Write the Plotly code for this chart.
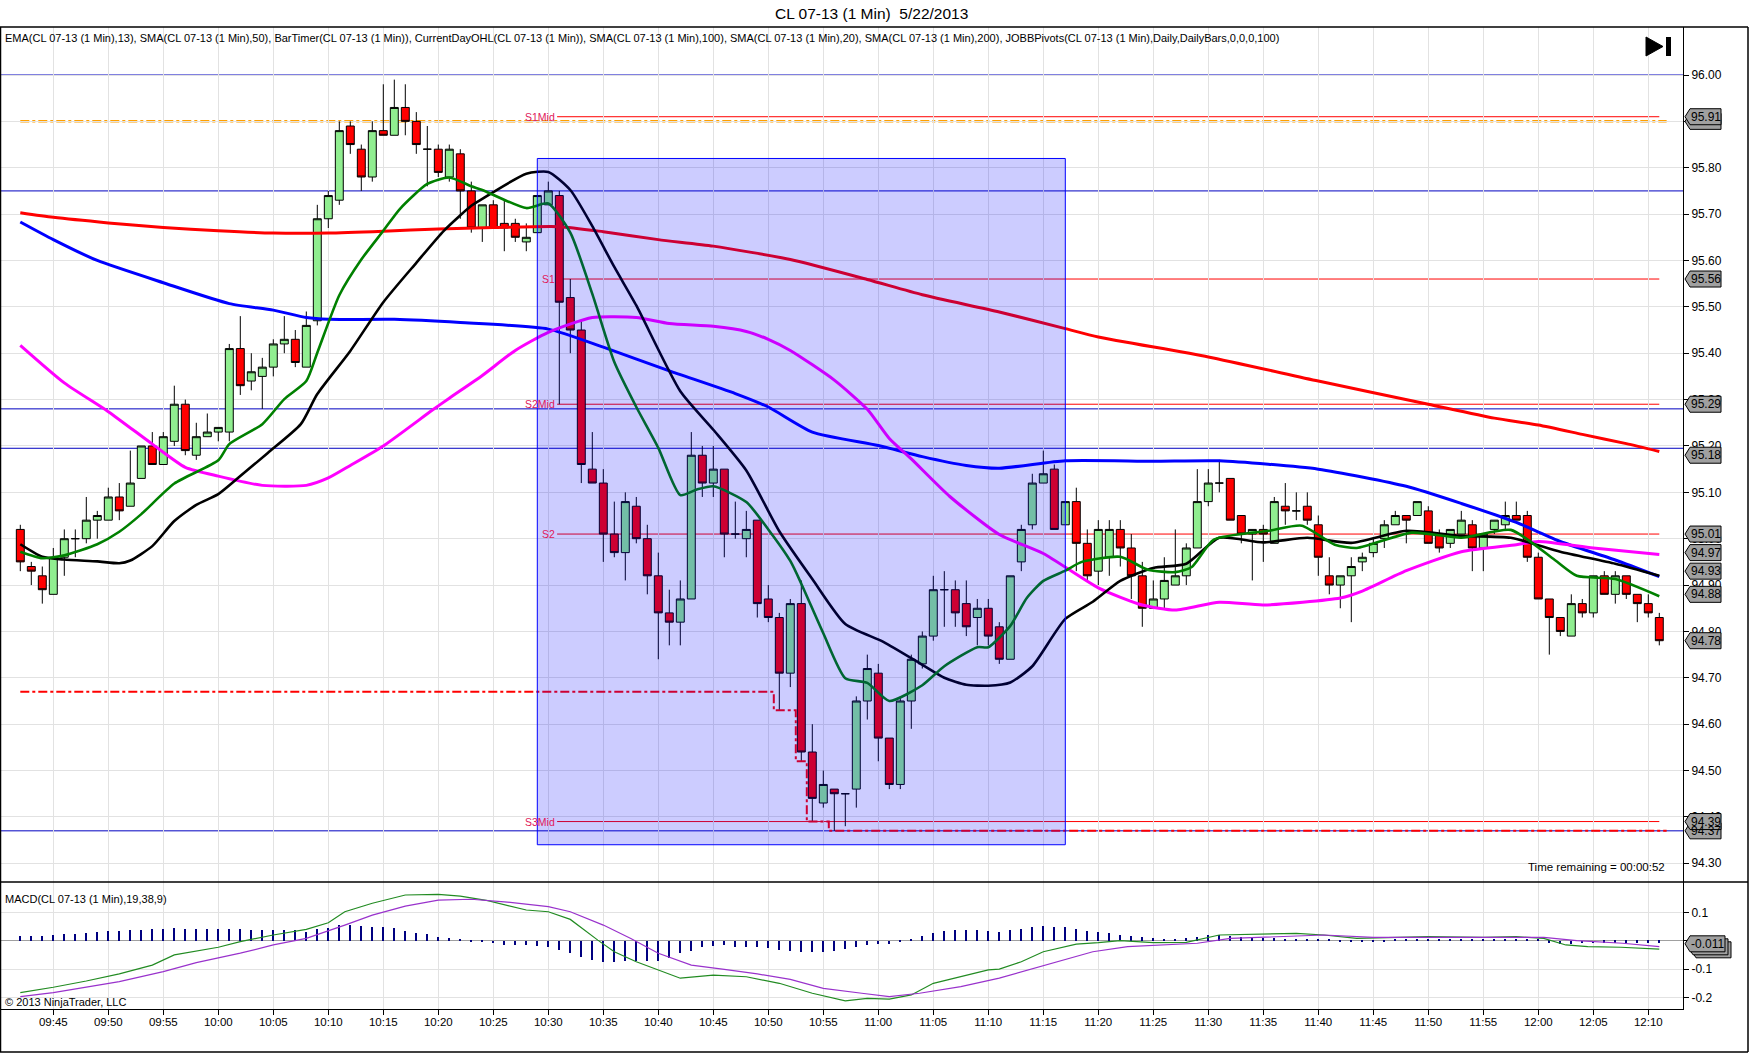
import pandas as pd
import plotly.graph_objects as go
from plotly.subplots import make_subplots

DAY = "2013-05-22"
FIRST_BAR = "09:42"
FONT = "Liberation Sans, Arial, sans-serif"

# ---------------- 1-min OHLC bars 09:42 .. 12:11 ----------------
opens = [
    95.02, 94.94, 94.92, 94.88, 94.96, 95.00, 95.00, 95.04, 95.04, 95.09,
    95.07, 95.13, 95.20, 95.16, 95.21, 95.29, 95.18, 95.22, 95.23, 95.23,
    95.41, 95.34, 95.35, 95.37, 95.42, 95.43, 95.37, 95.47, 95.69, 95.73,
    95.89, 95.84, 95.78, 95.88, 95.87, 95.93, 95.90, 95.84, 95.84, 95.78,
    95.83, 95.75, 95.67, 95.72, 95.68, 95.68, 95.64, 95.66, 95.72, 95.74,
    95.52, 95.45, 95.15, 95.12, 95.01, 94.97, 95.07, 95.00, 94.92, 94.84,
    94.82, 94.87, 95.18, 95.12, 95.15, 95.01, 95.00, 95.04, 94.87, 94.83,
    94.71, 94.86, 94.54, 94.43, 94.46, 94.45, 94.46, 94.65, 94.71, 94.57,
    94.47, 94.65, 94.73, 94.79, 94.89, 94.89, 94.86, 94.83, 94.85, 94.81,
    94.74, 94.95, 95.03, 95.12, 95.15, 95.03, 95.08, 94.99, 94.93, 94.96,
    95.02, 94.98, 94.92, 94.85, 94.87, 94.90, 94.92, 94.98, 95.08, 95.12,
    95.13, 95.05, 95.01, 95.02, 94.99, 95.07, 95.06, 95.07, 95.03, 94.92,
    94.90, 94.92, 94.95, 94.97, 95.00, 95.03, 95.05, 95.05, 95.06, 95.01,
    94.99, 95.01, 95.03, 94.98, 95.02, 95.03, 95.05, 95.05, 94.96, 94.87,
    94.83, 94.79, 94.86, 94.84, 94.92, 94.88, 94.92, 94.88, 94.86, 94.83,
]
highs = [
    95.03, 94.95, 94.94, 94.98, 95.02, 95.02, 95.09, 95.06, 95.11, 95.12,
    95.19, 95.20, 95.23, 95.23, 95.33, 95.30, 95.25, 95.27, 95.24, 95.42,
    95.48, 95.40, 95.39, 95.43, 95.48, 95.45, 95.49, 95.72, 95.75, 95.90,
    95.90, 95.85, 95.90, 95.98, 95.99, 95.98, 95.92, 95.89, 95.85, 95.85,
    95.84, 95.77, 95.72, 95.73, 95.73, 95.69, 95.68, 95.74, 95.77, 95.75,
    95.56, 95.47, 95.23, 95.15, 95.08, 95.10, 95.09, 95.03, 94.97, 94.89,
    94.91, 95.23, 95.20, 95.20, 95.15, 95.08, 95.06, 95.04, 94.90, 94.84,
    94.87, 94.91, 94.60, 94.50, 94.46, 94.45, 94.66, 94.75, 94.73, 94.57,
    94.66, 94.75, 94.80, 94.92, 94.93, 94.91, 94.91, 94.87, 94.87, 94.82,
    94.92, 95.03, 95.14, 95.19, 95.16, 95.08, 95.11, 95.02, 95.04, 95.04,
    95.04, 95.01, 94.95, 94.91, 94.96, 95.02, 94.99, 95.15, 95.15, 95.17,
    95.13, 95.05, 95.02, 95.03, 95.09, 95.12, 95.10, 95.10, 95.05, 94.96,
    94.92, 94.96, 94.97, 95.00, 95.04, 95.06, 95.05, 95.08, 95.07, 95.02,
    95.02, 95.06, 95.04, 95.01, 95.04, 95.08, 95.08, 95.06, 94.97, 94.87,
    94.83, 94.88, 94.87, 94.92, 94.93, 94.93, 94.92, 94.88, 94.88, 94.84,
]
lows = [
    94.93, 94.90, 94.86, 94.88, 94.92, 94.96, 94.99, 95.00, 95.04, 95.04,
    95.07, 95.13, 95.16, 95.16, 95.20, 95.18, 95.17, 95.22, 95.21, 95.21,
    95.31, 95.32, 95.28, 95.35, 95.40, 95.37, 95.37, 95.46, 95.67, 95.72,
    95.83, 95.75, 95.77, 95.87, 95.87, 95.87, 95.83, 95.76, 95.78, 95.77,
    95.69, 95.66, 95.64, 95.67, 95.62, 95.64, 95.62, 95.66, 95.72, 95.29,
    95.40, 95.12, 95.12, 94.95, 94.96, 94.91, 94.99, 94.88, 94.74, 94.77,
    94.77, 94.87, 95.09, 95.09, 94.96, 95.00, 94.96, 94.83, 94.82, 94.63,
    94.68, 94.52, 94.39, 94.42, 94.37, 94.38, 94.42, 94.61, 94.52, 94.46,
    94.46, 94.59, 94.72, 94.78, 94.81, 94.81, 94.79, 94.77, 94.77, 94.73,
    94.74, 94.93, 95.02, 95.12, 95.02, 95.03, 94.93, 94.91, 94.90, 94.92,
    94.94, 94.87, 94.81, 94.85, 94.85, 94.90, 94.90, 94.98, 95.07, 95.10,
    95.04, 94.99, 94.91, 94.95, 94.99, 95.03, 95.04, 95.03, 94.92, 94.88,
    94.85, 94.82, 94.93, 94.96, 94.98, 95.03, 94.99, 95.05, 94.99, 94.97,
    94.98, 95.01, 94.93, 94.93, 95.01, 95.02, 95.04, 94.95, 94.87, 94.75,
    94.79, 94.79, 94.83, 94.83, 94.88, 94.86, 94.87, 94.82, 94.83, 94.77,
]
closes = [
    94.95, 94.93, 94.89, 94.96, 95.00, 95.00, 95.04, 95.05, 95.09, 95.06,
    95.12, 95.20, 95.16, 95.22, 95.29, 95.19, 95.22, 95.23, 95.24, 95.41,
    95.33, 95.36, 95.37, 95.42, 95.43, 95.38, 95.46, 95.69, 95.74, 95.88,
    95.85, 95.78, 95.88, 95.87, 95.93, 95.90, 95.85, 95.84, 95.79, 95.84,
    95.75, 95.67, 95.72, 95.67, 95.67, 95.65, 95.65, 95.74, 95.75, 95.51,
    95.45, 95.16, 95.12, 95.01, 94.97, 95.08, 95.00, 94.92, 94.84, 94.82,
    94.87, 95.18, 95.12, 95.15, 95.01, 95.01, 95.02, 94.86, 94.83, 94.71,
    94.86, 94.54, 94.44, 94.47, 94.45, 94.45, 94.65, 94.72, 94.57, 94.47,
    94.65, 94.74, 94.79, 94.89, 94.89, 94.84, 94.81, 94.85, 94.79, 94.74,
    94.92, 95.02, 95.12, 95.14, 95.02, 95.08, 94.99, 94.92, 95.02, 95.02,
    94.98, 94.92, 94.85, 94.87, 94.91, 94.92, 94.98, 95.08, 95.12, 95.12,
    95.04, 95.01, 95.02, 95.01, 95.08, 95.06, 95.06, 95.04, 94.96, 94.90,
    94.92, 94.94, 94.96, 94.99, 95.03, 95.05, 95.04, 95.08, 94.99, 94.98,
    95.02, 95.04, 94.98, 95.01, 95.04, 95.05, 95.04, 94.96, 94.87, 94.83,
    94.80, 94.86, 94.84, 94.92, 94.88, 94.92, 94.88, 94.86, 94.84, 94.78,
]
# MACD histogram (diff), one value per bar
macd_diff = [
    0.016, 0.016, 0.016, 0.020, 0.023, 0.023, 0.028, 0.032, 0.034, 0.035,
    0.038, 0.038, 0.041, 0.041, 0.045, 0.042, 0.041, 0.041, 0.040, 0.042,
    0.040, 0.038, 0.038, 0.038, 0.038, 0.038, 0.032, 0.040, 0.043, 0.055,
    0.055, 0.052, 0.049, 0.047, 0.043, 0.035, 0.028, 0.023, 0.014, 0.008,
    0.003, -0.003, -0.005, -0.009, -0.015, -0.016, -0.016, -0.019, -0.023, -0.033,
    -0.045, -0.056, -0.068, -0.074, -0.074, -0.070, -0.070, -0.070, -0.070, -0.062,
    -0.045, -0.035, -0.023, -0.019, -0.016, -0.021, -0.021, -0.023, -0.027, -0.033,
    -0.038, -0.039, -0.039, -0.039, -0.036, -0.030, -0.023, -0.015, -0.012, -0.012,
    -0.004, 0.005, 0.016, 0.028, 0.035, 0.038, 0.038, 0.038, 0.035, 0.032,
    0.038, 0.040, 0.047, 0.052, 0.049, 0.047, 0.040, 0.035, 0.032, 0.026,
    0.020, 0.016, 0.012, 0.008, 0.006, 0.006, 0.008, 0.014, 0.019, 0.020,
    0.016, 0.014, 0.012, 0.011, 0.008, 0.006, 0.005, 0.003, 0.003, 0.003,
    -0.004, -0.004, -0.004, -0.003, -0.003, 0.003, 0.003, 0.003, 0.003, 0.003,
    0.003, 0.003, 0.003, 0.003, 0.003, 0.003, 0.003, 0.003, 0.003, -0.007,
    -0.012, -0.012, -0.009, -0.009, -0.007, -0.007, -0.007, -0.007, -0.007, -0.007,
]

# ---------------- indicator lines (read at sample times) ----------------
sma200_t = ["09:42", "09:45", "09:50", "09:55", "10:00", "10:05", "10:10", "10:15", "10:20", "10:25",
            "10:31", "10:35", "10:40", "10:45", "10:52", "10:59", "11:04", "11:11", "11:17", "11:20",
            "11:30", "11:40", "11:50", "11:56", "12:00", "12:04", "12:08", "12:11"]
sma200_v = [95.703, 95.693, 95.681, 95.671, 95.664, 95.659, 95.659, 95.663, 95.668, 95.671,
            95.673, 95.662, 95.645, 95.631, 95.602, 95.559, 95.526, 95.489, 95.453, 95.435,
            95.392, 95.340, 95.290, 95.260, 95.245, 95.225, 95.205, 95.188]

sma100_t = ["09:42", "09:45", "09:49", "09:55", "10:01", "10:05", "10:08", "10:10", "10:16", "10:22",
            "10:30", "10:35", "10:41", "10:47", "10:50", "10:54", "11:00", "11:04", "11:08", "11:11",
            "11:17", "11:25", "11:31", "11:40", "11:48", "11:53", "11:58", "12:02", "12:07", "12:11"]
sma100_v = [95.683, 95.645, 95.600, 95.552, 95.507, 95.493, 95.477, 95.473, 95.473, 95.466,
            95.452, 95.413, 95.362, 95.313, 95.284, 95.230, 95.201, 95.177, 95.158, 95.152,
            95.168, 95.167, 95.168, 95.150, 95.113, 95.076, 95.035, 94.994, 94.954, 94.918]

sma50_t = ["09:42", "09:46", "09:50", "09:54", "09:57", "10:00", "10:04", "10:08", "10:10", "10:12",
           "10:15", "10:19:30", "10:21", "10:24", "10:27", "10:30", "10:34", "10:38", "10:41", "10:45",
           "10:48", "10:50", "10:52", "10:56", "10:59", "11:01", "11:03", "11:06:30", "11:11", "11:15",
           "11:20", "11:24", "11:27", "11:31", "11:35", "11:42", "11:44", "11:48", "11:53", "11:58",
           "12:00", "12:05", "12:11"]
sma50_v = [95.417, 95.336, 95.274, 95.204, 95.154, 95.135, 95.115, 95.115, 95.131, 95.158,
           95.200, 95.278, 95.303, 95.352, 95.406, 95.445, 95.477, 95.477, 95.464, 95.458,
           95.447, 95.430, 95.406, 95.342, 95.279, 95.216, 95.172, 95.091, 95.009, 94.968,
           94.894, 94.857, 94.846, 94.863, 94.857, 94.872, 94.887, 94.931, 94.972, 94.987,
           94.994, 94.980, 94.966]

sma20_t = ["09:42", "09:44", "09:46", "09:49", "09:51", "09:52", "09:54", "09:56", "09:58", "10:00",
           "10:02", "10:04:30", "10:07:30", "10:09", "10:12", "10:15", "10:18", "10:20:30", "10:23", "10:24",
           "10:28", "10:30", "10:32", "10:34", "10:36", "10:38", "10:42", "10:45", "10:48", "10:51",
           "10:54", "10:57", "11:00:30", "11:04", "11:06", "11:08", "11:10", "11:12", "11:14", "11:17",
           "11:19:30", "11:22", "11:25", "11:28", "11:31", "11:35", "11:39", "11:43", "11:48", "11:53",
           "11:57:30", "12:02", "12:07", "12:11"]
sma20_v = [94.988, 94.961, 94.955, 94.951, 94.947, 94.953, 94.984, 95.038, 95.073, 95.096,
           95.135, 95.185, 95.247, 95.312, 95.405, 95.510, 95.595, 95.664, 95.718, 95.733,
           95.787, 95.791, 95.752, 95.674, 95.586, 95.503, 95.318, 95.235, 95.147, 95.016,
           94.913, 94.816, 94.777, 94.728, 94.700, 94.685, 94.683, 94.690, 94.725, 94.827,
           94.864, 94.909, 94.937, 94.946, 95.002, 94.992, 95.002, 94.991, 95.017, 95.006,
           95.002, 94.972, 94.946, 94.920]

ema13_t = ["09:42", "09:44", "09:46", "09:49", "09:51", "09:53", "09:56", "10:00", "10:01", "10:04",
           "10:06", "10:08", "10:09", "10:11", "10:13", "10:15", "10:16:30", "10:19", "10:21", "10:23",
           "10:24", "10:28", "10:30", "10:32", "10:34", "10:36", "10:38", "10:40", "10:42", "10:43:30",
           "10:45", "10:48", "10:50", "10:52", "10:53", "10:55", "10:57", "10:59", "11:01", "11:04",
           "11:06", "11:09", "11:10", "11:12", "11:13:30", "11:15", "11:17", "11:18:30", "11:22", "11:24:30",
           "11:27", "11:28:30", "11:30:30", "11:35:30", "11:38:30", "11:41:30", "11:43:30", "11:48:30", "11:53", "11:57:30",
           "12:01:30", "12:03:30", "12:07", "12:11"]
ema13_v = [94.972, 94.958, 94.964, 94.988, 95.015, 95.053, 95.119, 95.169, 95.204, 95.247,
           95.301, 95.340, 95.401, 95.525, 95.602, 95.664, 95.711, 95.765, 95.779, 95.760,
           95.752, 95.713, 95.723, 95.660, 95.528, 95.381, 95.284, 95.196, 95.094, 95.106,
           95.113, 95.079, 95.020, 94.952, 94.903, 94.796, 94.699, 94.689, 94.650, 94.684,
           94.725, 94.766, 94.766, 94.812, 94.872, 94.909, 94.931, 94.950, 94.961, 94.933,
           94.928, 94.939, 94.998, 95.017, 95.028, 94.987, 94.980, 95.013, 95.002, 95.019,
           94.954, 94.920, 94.913, 94.876]

macd_t = ["09:42", "09:45", "09:48", "09:51", "09:54", "09:56", "10:00", "10:02", "10:05", "10:08",
          "10:10", "10:11:30", "10:14", "10:17", "10:20", "10:22", "10:24:30", "10:26", "10:28", "10:30",
          "10:32", "10:34:30", "10:36", "10:38", "10:42", "10:45", "10:48", "10:51", "10:54", "10:57",
          "10:59", "11:01", "11:03", "11:05", "11:07:30", "11:10", "11:11", "11:13", "11:15", "11:18",
          "11:20", "11:22", "11:25", "11:28", "11:31", "11:35", "11:38", "11:40:30", "11:43:30", "11:50",
          "11:55", "11:58", "12:00:30", "12:02:30", "12:04:30", "12:07:30", "12:11"]
macd_v = [-0.183, -0.164, -0.142, -0.117, -0.086, -0.050, -0.023, -0.003, 0.020, 0.040,
          0.063, 0.102, 0.132, 0.161, 0.163, 0.157, 0.141, 0.126, 0.108, 0.102,
          0.075, 0.002, -0.039, -0.074, -0.132, -0.121, -0.127, -0.150, -0.185, -0.212,
          -0.203, -0.206, -0.191, -0.150, -0.127, -0.103, -0.100, -0.074, -0.039, -0.012,
          -0.007, 0.000, -0.007, -0.006, 0.020, 0.024, 0.026, 0.020, 0.008, 0.014,
          0.012, 0.014, 0.008, -0.015, -0.021, -0.023, -0.030]

signal_t = ["09:42", "09:45", "09:51", "09:55", "09:58", "10:02", "10:05", "10:08", "10:11:30", "10:14",
            "10:17", "10:20", "10:23", "10:26", "10:30", "10:32", "10:35", "10:37:30", "10:40", "10:43",
            "10:46", "10:49", "10:52", "10:55", "10:58:30", "11:01", "11:03:45", "11:07:30", "11:11", "11:15:20",
            "11:19:30", "11:22:40", "11:25:50", "11:29", "11:32", "11:37", "11:40:30", "11:45", "11:50", "11:55",
            "12:00:30", "12:03:30", "12:07:40", "12:11"]
signal_v = [-0.197, -0.183, -0.144, -0.109, -0.077, -0.044, -0.015, 0.008, 0.055, 0.090,
            0.122, 0.143, 0.146, 0.137, 0.120, 0.102, 0.055, 0.008, -0.044, -0.086,
            -0.101, -0.117, -0.136, -0.168, -0.185, -0.197, -0.185, -0.162, -0.132, -0.086,
            -0.039, -0.021, -0.015, -0.009, 0.008, 0.014, 0.020, 0.012, 0.012, 0.011,
            0.012, 0.000, -0.009, -0.021]

# ---------------- levels ----------------
blue_levels = [96.00, 95.75, 95.28, 95.195, 94.37]
day_open = 95.90
day_low_t = ["09:42", "10:50:30", "10:52:30", "10:53:30", "10:55:30", "12:11:40"]
day_low_v = [94.67, 94.63, 94.52, 94.39, 94.37, 94.37]
pivot_names = ["S1Mid", "S1", "S2Mid", "S2", "S3Mid"]
pivot_values = [95.91, 95.56, 95.29, 95.01, 94.39]
pivot_start = "10:30:48"
zone_t = ["10:29", "11:17"]
zone_p = [94.34, 95.82]
price_ticks = [94.3, 94.4, 94.5, 94.6, 94.7, 94.8, 94.9, 95.0, 95.1, 95.2, 95.3, 95.4,
               95.5, 95.6, 95.7, 95.8, 95.9, 96.0]
# value tags on the price axis: (value, text shown)
price_tags = [(95.90, ""), (95.91, "95.91"), (95.56, "95.56"), (95.29, "95.29"), (95.18, "95.18"),
              (95.01, "95.01"), (94.97, "94.97"), (94.93, "94.93"), (94.88, "94.88"),
              (94.78, "94.78"), (94.37, "94.37"), (94.39, "94.39")]
macd_ticks = [-0.2, -0.1, 0.0, 0.1]
macd_tag = -0.011

# ---------------- helpers ----------------
def T(s):
    return pd.Timestamp(f"{DAY} {s}")

n = len(opens)
times = pd.date_range(T(FIRST_BAR), periods=n, freq="min")
last = times[-1]

W, H = 1752, 1055
L, R, TOP, BOT = 1, 1683, 27, 1009   # plot area in pixels
SPLIT = 882                            # pane divider


def px(x):
    return (x - L) / (R - L)


def py(y):
    return (BOT - y) / (BOT - TOP)


fig = make_subplots(rows=2, cols=1, shared_xaxes=True, vertical_spacing=0,
                    row_heights=[SPLIT - TOP, BOT - SPLIT])

# level lines below traces
for v in blue_levels:
    fig.add_shape(type="line", xref="x domain", x0=0, x1=1, yref="y", y0=v, y1=v,
                  line=dict(color="#0000C0", width=1), layer="below")
for v in pivot_values:
    fig.add_shape(type="line", xref="x", x0=T(pivot_start), x1=last, yref="y", y0=v, y1=v,
                  line=dict(color="#FF0000", width=1), layer="below")
fig.add_shape(type="line", xref="x", x0=times[0], x1=last + pd.Timedelta(seconds=40),
              yref="y", y0=day_open, y1=day_open,
              line=dict(color="#FFA000", width=2.5, dash="9px,3px,3px,3px"), layer="below")

fig.add_trace(go.Scatter(x=[T(t) for t in day_low_t], y=day_low_v, mode="lines",
                         line=dict(color="#FF0000", width=2, dash="9px,3px,3px,3px", shape="hv"),
                         hoverinfo="skip"), row=1, col=1)

fig.add_trace(go.Candlestick(
    x=times, open=opens, high=highs, low=lows, close=closes,
    increasing=dict(fillcolor="#90EE90", line=dict(color="black", width=1)),
    decreasing=dict(fillcolor="#FF0000", line=dict(color="black", width=1)),
    whiskerwidth=0), row=1, col=1)

for tt, vv, col, w in [
    (sma200_t, sma200_v, "#FF0000", 3),
    (sma100_t, sma100_v, "#0000FF", 3),
    (sma50_t, sma50_v, "#FF00FF", 3),
    (sma20_t, sma20_v, "#000000", 2.6),
    (ema13_t, ema13_v, "#008000", 2.6),
]:
    fig.add_trace(go.Scatter(x=[T(t) for t in tt], y=vv, mode="lines",
                             line=dict(color=col, width=w, shape="spline", smoothing=0.6),
                             hoverinfo="skip"), row=1, col=1)

# zone rectangle drawn above everything
fig.add_shape(type="rect", xref="x", yref="y", x0=T(zone_t[0]), x1=T(zone_t[1]),
              y0=zone_p[0], y1=zone_p[1], fillcolor="rgba(0,0,255,0.2)",
              line=dict(color="#0000FF", width=1), layer="above")

# MACD pane
fig.add_trace(go.Bar(x=times, y=macd_diff, marker=dict(color="#000080", line=dict(width=0)),
                     width=13000, hoverinfo="skip"), row=2, col=1)
fig.add_trace(go.Scatter(x=[T(t) for t in macd_t], y=macd_v, mode="lines",
                         line=dict(color="#228B22", width=1.2), hoverinfo="skip"), row=2, col=1)
fig.add_trace(go.Scatter(x=[T(t) for t in signal_t], y=signal_v, mode="lines",
                         line=dict(color="#9932CC", width=1.2), hoverinfo="skip"), row=2, col=1)

# ---------------- axes ----------------
x_left = T("10:30") - pd.Timedelta(minutes=(548.3 - L) / 11.0)
x_right = T("10:30") + pd.Timedelta(minutes=(R - 548.3) / 11.0)
p_top = 96.0 + (75 - TOP) / 463.7
p_bot = 96.0 - (SPLIT - 75) / 463.7
m_top = (940.7 - SPLIT) / 284.0
m_bot = -(BOT - 940.7) / 284.0

y_font = dict(family=FONT, size=12, color="black")
x_font = dict(family=FONT, size=11.5, color="black")
fig.update_xaxes(range=[x_left, x_right], type="date", dtick=300000, tick0=T("09:45"),
                 showgrid=True, gridcolor="#E2E2E2", gridwidth=1, zeroline=False,
                 rangeslider_visible=False, tickformat="%H:%M", automargin=False)
fig.update_xaxes(showticklabels=False, ticks="", showline=False, row=1, col=1)
fig.update_xaxes(showticklabels=True, ticks="outside", ticklen=5, tickcolor="black",
                 showline=True, linecolor="black", linewidth=1, tickfont=x_font,
                 ticklabelstandoff=-3, row=2, col=1)

fig.update_yaxes(range=[p_bot, p_top], side="right", tickvals=price_ticks,
                 ticktext=[f"{v:.2f}" for v in price_ticks],
                 showgrid=True, gridcolor="#E2E2E2", zeroline=False, ticks="outside", ticklen=5,
                 tickcolor="black", showline=True, linecolor="black", linewidth=1,
                 tickfont=y_font, automargin=False, row=1, col=1)
fig.update_yaxes(range=[m_bot, m_top], side="right", tickvals=macd_ticks,
                 ticktext=[f"{v:g}" for v in macd_ticks], showgrid=True, gridcolor="#E2E2E2",
                 zeroline=True, zerolinecolor="#A0A0A0", zerolinewidth=1, ticks="outside",
                 ticklen=5, tickcolor="black", showline=True, linecolor="black", linewidth=1,
                 tickfont=y_font, automargin=False, row=2, col=1)

# ---------------- frame ----------------
frame = [((0, TOP), (1748, TOP)), ((0.5, TOP), (0.5, 1052)), ((1748, TOP), (1748, 1052)),
         ((0, 1052), (1748, 1052)), ((0, SPLIT), (1748, SPLIT))]
for (xa, ya), (xb, yb) in frame:
    fig.add_shape(type="line", xref="paper", yref="paper", x0=px(xa), x1=px(xb),
                  y0=py(ya), y1=py(yb), line=dict(color="black", width=1.5), layer="above")

# play-to-end icon
fig.add_shape(type="path", xref="paper", yref="paper", xsizemode="pixel", ysizemode="pixel",
              xanchor=1, yanchor=1, path="M -37 -10 L -20 -19.5 L -37 -29 Z",
              fillcolor="black", line=dict(color="black", width=1), layer="above")
fig.add_shape(type="rect", xref="paper", yref="paper", xsizemode="pixel", ysizemode="pixel",
              xanchor=1, yanchor=1, x0=-17, x1=-12, y0=-10, y1=-29,
              fillcolor="black", line=dict(color="black", width=0), layer="above")

# ---------------- value tags ----------------
tag_path = "M 2 0 L 7 8 L 38 8 L 38 -8 L 7 -8 Z"
for v, label in price_tags:
    fig.add_shape(type="path", xref="paper", yref="y", xsizemode="pixel", ysizemode="pixel",
                  xanchor=1, yanchor=v, path=tag_path, fillcolor="#A0A0A0",
                  line=dict(color="black", width=1), layer="above")
    if label:
        fig.add_annotation(xref="paper", yref="y", x=1, y=v, xanchor="left", xshift=6,
                           text=label, showarrow=False,
                           font=dict(family=FONT, size=12, color="black"))
for k in (2, 1, 0):
    fig.add_shape(type="path", xref="paper", yref="y2", xsizemode="pixel", ysizemode="pixel",
                  xanchor=1, yanchor=macd_tag,
                  path=f"M {2+3*k} {-3*k} L {7+3*k} {8-3*k} L {42+3*k} {8-3*k} L {42+3*k} {-8-3*k} L {7+3*k} {-8-3*k} Z",
                  fillcolor="#A0A0A0", line=dict(color="black", width=1), layer="above")
fig.add_annotation(xref="paper", yref="y2", x=1, y=macd_tag, xanchor="left", xshift=6,
                   text=f"{macd_tag:.3f}", showarrow=False,
                   font=dict(family=FONT, size=12, color="black"))

# pivot labels
for name, v in zip(pivot_names, pivot_values):
    fig.add_annotation(xref="x", yref="y", x=T(pivot_start), y=v, xanchor="right",
                       text=name, showarrow=False,
                       font=dict(family=FONT, size=10.5, color="#E0185A"))

# ---------------- texts ----------------
fig.add_annotation(xref="paper", yref="paper", x=px(871), y=py(13), xanchor="center",
                   yanchor="middle", text="CL 07-13 (1 Min)  5/22/2013", showarrow=False,
                   font=dict(family=FONT, size=15.5, color="black"))
fig.add_annotation(xref="paper", yref="paper", x=px(3), y=py(38), xanchor="left", yanchor="middle",
                   text=("EMA(CL 07-13 (1 Min),13), SMA(CL 07-13 (1 Min),50), BarTimer(CL 07-13 (1 Min)), "
                         "CurrentDayOHL(CL 07-13 (1 Min)), SMA(CL 07-13 (1 Min),100), SMA(CL 07-13 (1 Min),20), "
                         "SMA(CL 07-13 (1 Min),200), JOBBPivots(CL 07-13 (1 Min),Daily,DailyBars,0,0,0,100)"),
                   showarrow=False, font=dict(family=FONT, size=11, color="black"))
fig.add_annotation(xref="paper", yref="paper", x=px(1667), y=py(867), xanchor="right",
                   yanchor="middle", text="Time remaining = 00:00:52", showarrow=False,
                   font=dict(family=FONT, size=11.5, color="black"))
fig.add_annotation(xref="paper", yref="paper", x=px(3), y=py(899), xanchor="left",
                   yanchor="middle", text="MACD(CL 07-13 (1 Min),19,38,9)", showarrow=False,
                   font=dict(family=FONT, size=11, color="black"))
fig.add_annotation(xref="paper", yref="paper", x=px(3), y=py(1002), xanchor="left",
                   yanchor="middle", text="© 2013 NinjaTrader, LLC", showarrow=False,
                   font=dict(family=FONT, size=11, color="black"))

fig.update_layout(width=W, height=H, margin=dict(l=L, r=W - R, t=TOP, b=H - BOT, autoexpand=False),
                  paper_bgcolor="white", plot_bgcolor="white", showlegend=False,
                  boxgap=0.15, boxgroupgap=0.15, bargap=0, font=dict(family=FONT))

fig.write_html("out.html", config={"displayModeBar": False},
               post_script="document.body.style.margin='0';document.body.style.overflow='hidden';")
